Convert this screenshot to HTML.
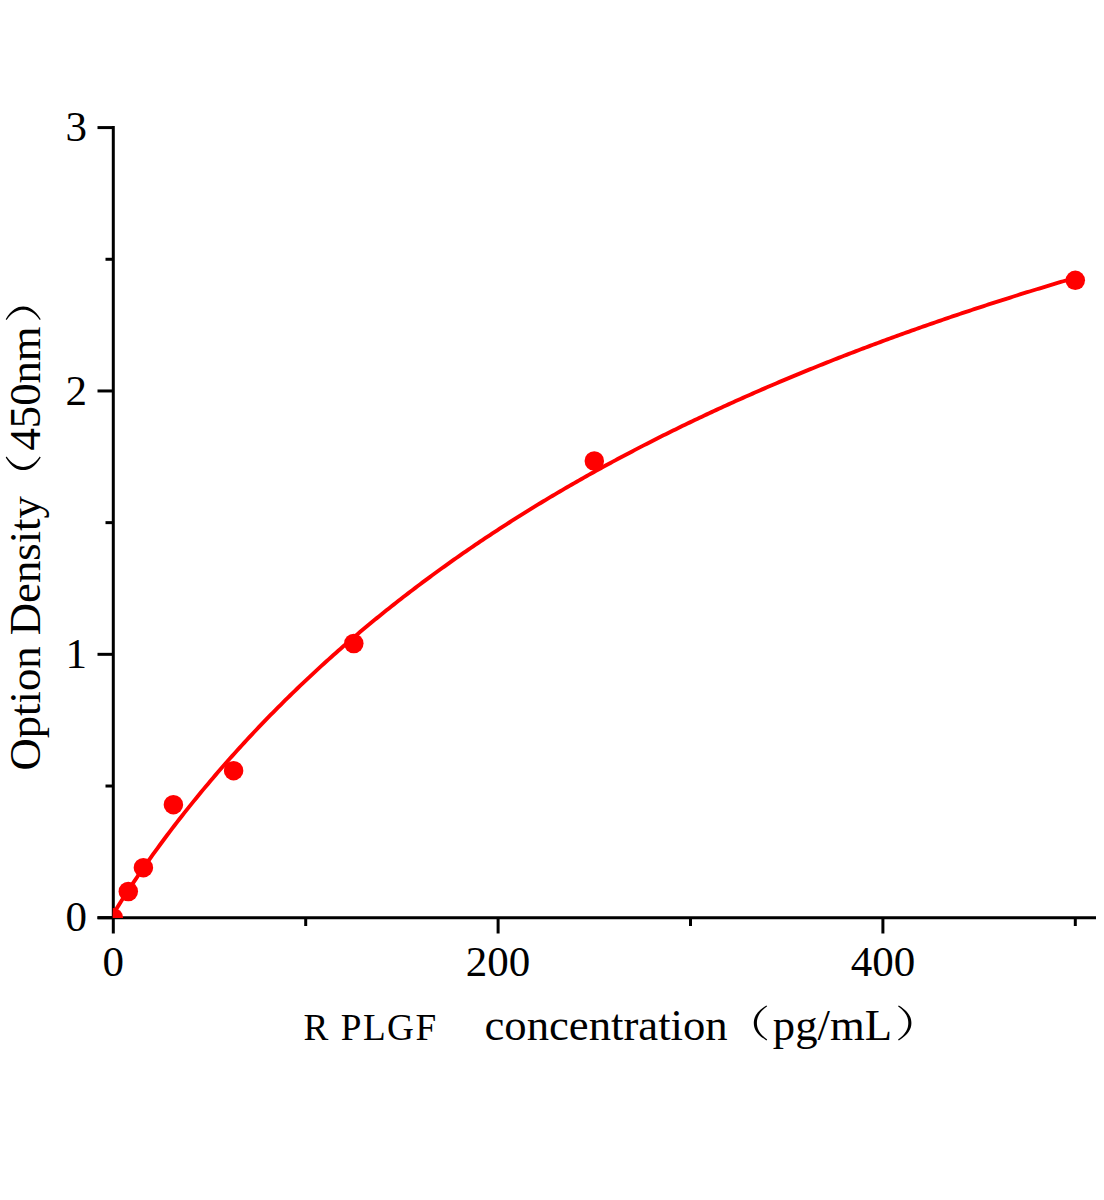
<!DOCTYPE html>
<html><head><meta charset="utf-8"><title>chart</title>
<style>
html,body{margin:0;padding:0;background:#fff;}
body{width:1104px;height:1200px;overflow:hidden;}
svg{display:block;font-family:"Liberation Serif",serif;}
.tk text{font-size:43px;fill:#000;}
.ttl{font-size:44.7px;fill:#000;}
</style></head><body>
<svg width="1104" height="1200" viewBox="0 0 1104 1200">
<rect width="1104" height="1200" fill="#fff"/>
<defs>
<path id="lp" d="M12.6 0 L13.4 0.9 C5.5 6.5 3.1 12 3.1 17.5 C3.1 23 5.5 28.5 13.4 34.1 L12.6 35 C3 29 0 23.5 0 17.5 C0 11.5 3 6 12.6 0 Z"/>
<path id="rp" d="M0.8 0 L0 0.9 C7.9 6.5 10.3 12 10.3 17.5 C10.3 23 7.9 28.5 0 34.1 L0.8 35 C10.4 29 13.4 23.5 13.4 17.5 C13.4 11.5 10.4 6 0.8 0 Z"/><clipPath id="cp"><rect x="112.8" y="0" width="1000" height="918.1"/></clipPath></defs>
<g stroke="#000" stroke-width="3" fill="none">
<line x1="113.3" x2="113.3" y1="126.1" y2="917.7"/>
<line x1="97.5" x2="1096" y1="917.7" y2="917.7"/>
<line x1="97.5" x2="113.3" y1="917.70" y2="917.70"/>
<line x1="97.5" x2="113.3" y1="654.33" y2="654.33"/>
<line x1="97.5" x2="113.3" y1="390.96" y2="390.96"/>
<line x1="97.5" x2="113.3" y1="127.59" y2="127.59"/>
<line x1="105.5" x2="113.3" y1="786.02" y2="786.02"/>
<line x1="105.5" x2="113.3" y1="522.64" y2="522.64"/>
<line x1="105.5" x2="113.3" y1="259.28" y2="259.28"/>
<line y1="917.7" y2="933.5" x1="113.30" x2="113.30"/>
<line y1="917.7" y2="933.5" x1="498.10" x2="498.10"/>
<line y1="917.7" y2="933.5" x1="882.90" x2="882.90"/>
<line y1="917.7" y2="926" x1="305.70" x2="305.70"/>
<line y1="917.7" y2="926" x1="690.50" x2="690.50"/>
<line y1="917.7" y2="926" x1="1075.30" x2="1075.30"/>
</g>
<g clip-path="url(#cp)">
<path d="M113.30 917.70 L114.26 912.58 L116.67 908.55 L119.08 904.64 L121.49 900.80 L123.90 897.03 L126.31 893.30 L128.71 889.62 L131.12 885.98 L133.53 882.37 L135.94 878.80 L138.35 875.27 L140.76 871.76 L143.17 868.29 L145.57 864.84 L147.98 861.43 L150.39 858.04 L152.80 854.68 L155.21 851.34 L157.62 848.03 L160.03 844.74 L162.43 841.48 L164.84 838.25 L167.25 835.03 L169.66 831.84 L172.07 828.67 L174.48 825.53 L176.89 822.40 L179.29 819.30 L181.70 816.22 L184.11 813.16 L186.52 810.12 L188.93 807.10 L191.34 804.10 L193.75 801.12 L196.15 798.15 L198.56 795.21 L200.97 792.29 L203.38 789.38 L205.79 786.50 L208.20 783.63 L210.61 780.77 L213.02 777.94 L215.42 775.12 L217.83 772.33 L220.24 769.54 L222.65 766.78 L225.06 764.03 L227.47 761.30 L229.88 758.58 L232.28 755.88 L234.69 753.20 L237.10 750.53 L239.51 747.88 L241.92 745.24 L244.33 742.62 L246.74 740.01 L249.14 737.42 L251.55 734.84 L253.96 732.28 L256.37 729.73 L258.78 727.19 L261.19 724.67 L263.60 722.17 L266.00 719.68 L268.41 717.20 L270.82 714.73 L273.23 712.28 L275.64 709.85 L278.05 707.42 L280.46 705.01 L282.87 702.61 L285.27 700.23 L287.68 697.85 L290.09 695.50 L292.50 693.15 L294.91 690.81 L297.32 688.49 L299.73 686.18 L302.13 683.88 L304.54 681.60 L306.95 679.32 L309.36 677.06 L311.77 674.81 L314.18 672.57 L316.59 670.34 L318.99 668.13 L321.40 665.92 L323.81 663.73 L326.22 661.55 L328.63 659.37 L331.04 657.21 L333.45 655.06 L335.85 652.92 L338.26 650.80 L340.67 648.68 L343.08 646.57 L345.49 644.47 L347.90 642.39 L350.31 640.31 L352.72 638.25 L355.12 636.19 L357.53 634.14 L359.94 632.11 L362.35 630.08 L364.76 628.07 L367.17 626.06 L369.58 624.06 L371.98 622.07 L374.39 620.10 L376.80 618.13 L379.21 616.17 L381.62 614.22 L384.03 612.28 L386.44 610.34 L388.84 608.42 L391.25 606.51 L393.66 604.60 L396.07 602.71 L398.48 600.82 L400.89 598.94 L403.30 597.07 L405.70 595.21 L408.11 593.36 L410.52 591.51 L412.93 589.68 L415.34 587.85 L417.75 586.03 L420.16 584.22 L422.56 582.42 L424.97 580.62 L427.38 578.84 L429.79 577.06 L432.20 575.29 L434.61 573.52 L437.02 571.77 L439.43 570.02 L441.83 568.28 L444.24 566.55 L446.65 564.83 L449.06 563.11 L451.47 561.40 L453.88 559.70 L456.29 558.00 L458.69 556.32 L461.10 554.64 L463.51 552.96 L465.92 551.30 L468.33 549.64 L470.74 547.99 L473.15 546.35 L475.55 544.71 L477.96 543.08 L480.37 541.46 L482.78 539.84 L485.19 538.23 L487.60 536.63 L490.01 535.03 L492.41 533.44 L494.82 531.86 L497.23 530.28 L499.64 528.72 L502.05 527.15 L504.46 525.60 L506.87 524.05 L509.28 522.50 L511.68 520.97 L514.09 519.43 L516.50 517.91 L518.91 516.39 L521.32 514.88 L523.73 513.37 L526.14 511.87 L528.54 510.38 L530.95 508.89 L533.36 507.41 L535.77 505.93 L538.18 504.46 L540.59 503.00 L543.00 501.54 L545.40 500.09 L547.81 498.64 L550.22 497.20 L552.63 495.77 L555.04 494.34 L557.45 492.91 L559.86 491.50 L562.26 490.08 L564.67 488.68 L567.08 487.28 L569.49 485.88 L571.90 484.49 L574.31 483.10 L576.72 481.72 L579.12 480.35 L581.53 478.98 L583.94 477.62 L586.35 476.26 L588.76 474.90 L591.17 473.55 L593.58 472.21 L595.99 470.87 L598.39 469.54 L600.80 468.21 L603.21 466.89 L605.62 465.57 L608.03 464.26 L610.44 462.95 L612.85 461.65 L615.25 460.35 L617.66 459.06 L620.07 457.77 L622.48 456.48 L624.89 455.20 L627.30 453.93 L629.71 452.66 L632.11 451.40 L634.52 450.14 L636.93 448.88 L639.34 447.63 L641.75 446.38 L644.16 445.14 L646.57 443.90 L648.97 442.67 L651.38 441.44 L653.79 440.22 L656.20 439.00 L658.61 437.78 L661.02 436.57 L663.43 435.37 L665.84 434.17 L668.24 432.97 L670.65 431.78 L673.06 430.59 L675.47 429.40 L677.88 428.22 L680.29 427.04 L682.70 425.87 L685.10 424.70 L687.51 423.54 L689.92 422.38 L692.33 421.22 L694.74 420.07 L697.15 418.93 L699.56 417.78 L701.96 416.64 L704.37 415.51 L706.78 414.37 L709.19 413.25 L711.60 412.12 L714.01 411.00 L716.42 409.89 L718.82 408.77 L721.23 407.67 L723.64 406.56 L726.05 405.46 L728.46 404.36 L730.87 403.27 L733.28 402.18 L735.69 401.09 L738.09 400.01 L740.50 398.93 L742.91 397.86 L745.32 396.79 L747.73 395.72 L750.14 394.66 L752.55 393.60 L754.95 392.54 L757.36 391.49 L759.77 390.44 L762.18 389.39 L764.59 388.35 L767.00 387.31 L769.41 386.27 L771.81 385.24 L774.22 384.21 L776.63 383.18 L779.04 382.16 L781.45 381.14 L783.86 380.13 L786.27 379.11 L788.67 378.11 L791.08 377.10 L793.49 376.10 L795.90 375.10 L798.31 374.10 L800.72 373.11 L803.13 372.12 L805.53 371.13 L807.94 370.15 L810.35 369.17 L812.76 368.19 L815.17 367.22 L817.58 366.25 L819.99 365.28 L822.40 364.32 L824.80 363.36 L827.21 362.40 L829.62 361.44 L832.03 360.49 L834.44 359.54 L836.85 358.60 L839.26 357.65 L841.66 356.71 L844.07 355.77 L846.48 354.84 L848.89 353.91 L851.30 352.98 L853.71 352.06 L856.12 351.13 L858.52 350.21 L860.93 349.30 L863.34 348.38 L865.75 347.47 L868.16 346.56 L870.57 345.66 L872.98 344.75 L875.38 343.85 L877.79 342.96 L880.20 342.06 L882.61 341.17 L885.02 340.28 L887.43 339.39 L889.84 338.51 L892.25 337.63 L894.65 336.75 L897.06 335.88 L899.47 335.00 L901.88 334.13 L904.29 333.26 L906.70 332.40 L909.11 331.54 L911.51 330.68 L913.92 329.82 L916.33 328.97 L918.74 328.11 L921.15 327.26 L923.56 326.42 L925.97 325.57 L928.37 324.73 L930.78 323.89 L933.19 323.05 L935.60 322.22 L938.01 321.39 L940.42 320.56 L942.83 319.73 L945.23 318.90 L947.64 318.08 L950.05 317.26 L952.46 316.44 L954.87 315.63 L957.28 314.82 L959.69 314.01 L962.10 313.20 L964.50 312.39 L966.91 311.59 L969.32 310.79 L971.73 309.99 L974.14 309.19 L976.55 308.40 L978.96 307.61 L981.36 306.82 L983.77 306.03 L986.18 305.24 L988.59 304.46 L991.00 303.68 L993.41 302.90 L995.82 302.13 L998.22 301.35 L1000.63 300.58 L1003.04 299.81 L1005.45 299.04 L1007.86 298.28 L1010.27 297.52 L1012.68 296.75 L1015.08 296.00 L1017.49 295.24 L1019.90 294.48 L1022.31 293.73 L1024.72 292.98 L1027.13 292.23 L1029.54 291.49 L1031.94 290.74 L1034.35 290.00 L1036.76 289.26 L1039.17 288.52 L1041.58 287.79 L1043.99 287.05 L1046.40 286.32 L1048.81 285.59 L1051.21 284.86 L1053.62 284.14 L1056.03 283.41 L1058.44 282.69 L1060.85 281.97 L1063.26 281.25 L1065.67 280.54 L1068.07 279.83 L1070.48 279.11 L1072.89 278.40 L1075.30 277.69" fill="none" stroke="#ff0000" stroke-width="3.9" stroke-linejoin="round"/>
<g fill="#ff0000">
<circle cx="113.3" cy="917.7" r="9.75"/>
<circle cx="128.3" cy="891.5" r="9.75"/>
<circle cx="143.4" cy="867.7" r="9.75"/>
<circle cx="173.4" cy="804.7" r="9.75"/>
<circle cx="233.6" cy="770.7" r="9.75"/>
<circle cx="353.8" cy="643.5" r="9.75"/>
<circle cx="594.3" cy="461.0" r="9.75"/>
<circle cx="1075.3" cy="280.3" r="9.75"/>
</g>
</g>
<g class="tk">
<text x="86.9" y="931.3" text-anchor="end">0</text>
<text x="86.9" y="667.9" text-anchor="end">1</text>
<text x="86.9" y="404.6" text-anchor="end">2</text>
<text x="86.9" y="141.2" text-anchor="end">3</text>
<text x="113.3" y="976.3" text-anchor="middle">0</text>
<text x="498.1" y="976.3" text-anchor="middle">200</text>
<text x="882.9" y="976.3" text-anchor="middle">400</text>
</g>
<text class="ttl" x="484.5" y="1039.6">concentration</text>
<text class="ttl" x="772.8" y="1039.6">pg/mL</text>
<text x="303.6" y="1039.6" style="font-size:37.2px;letter-spacing:1.5px">R PLGF</text>
<g fill="#000" stroke="none">
<use href="#lp" x="753.8" y="1005.4"/>
<use href="#rp" x="898" y="1005.4"/>
</g>
<g transform="translate(40.3 770.5) rotate(-90)">
<text class="ttl" x="0" y="0">Option Density</text>
<text class="ttl" x="320" y="0">450nm</text>
<g fill="#000" stroke="none">
<use href="#lp" x="300.5" y="-34.6"/>
<use href="#rp" x="450.5" y="-34.6"/>
</g>
</g>
</svg>
</body></html>
